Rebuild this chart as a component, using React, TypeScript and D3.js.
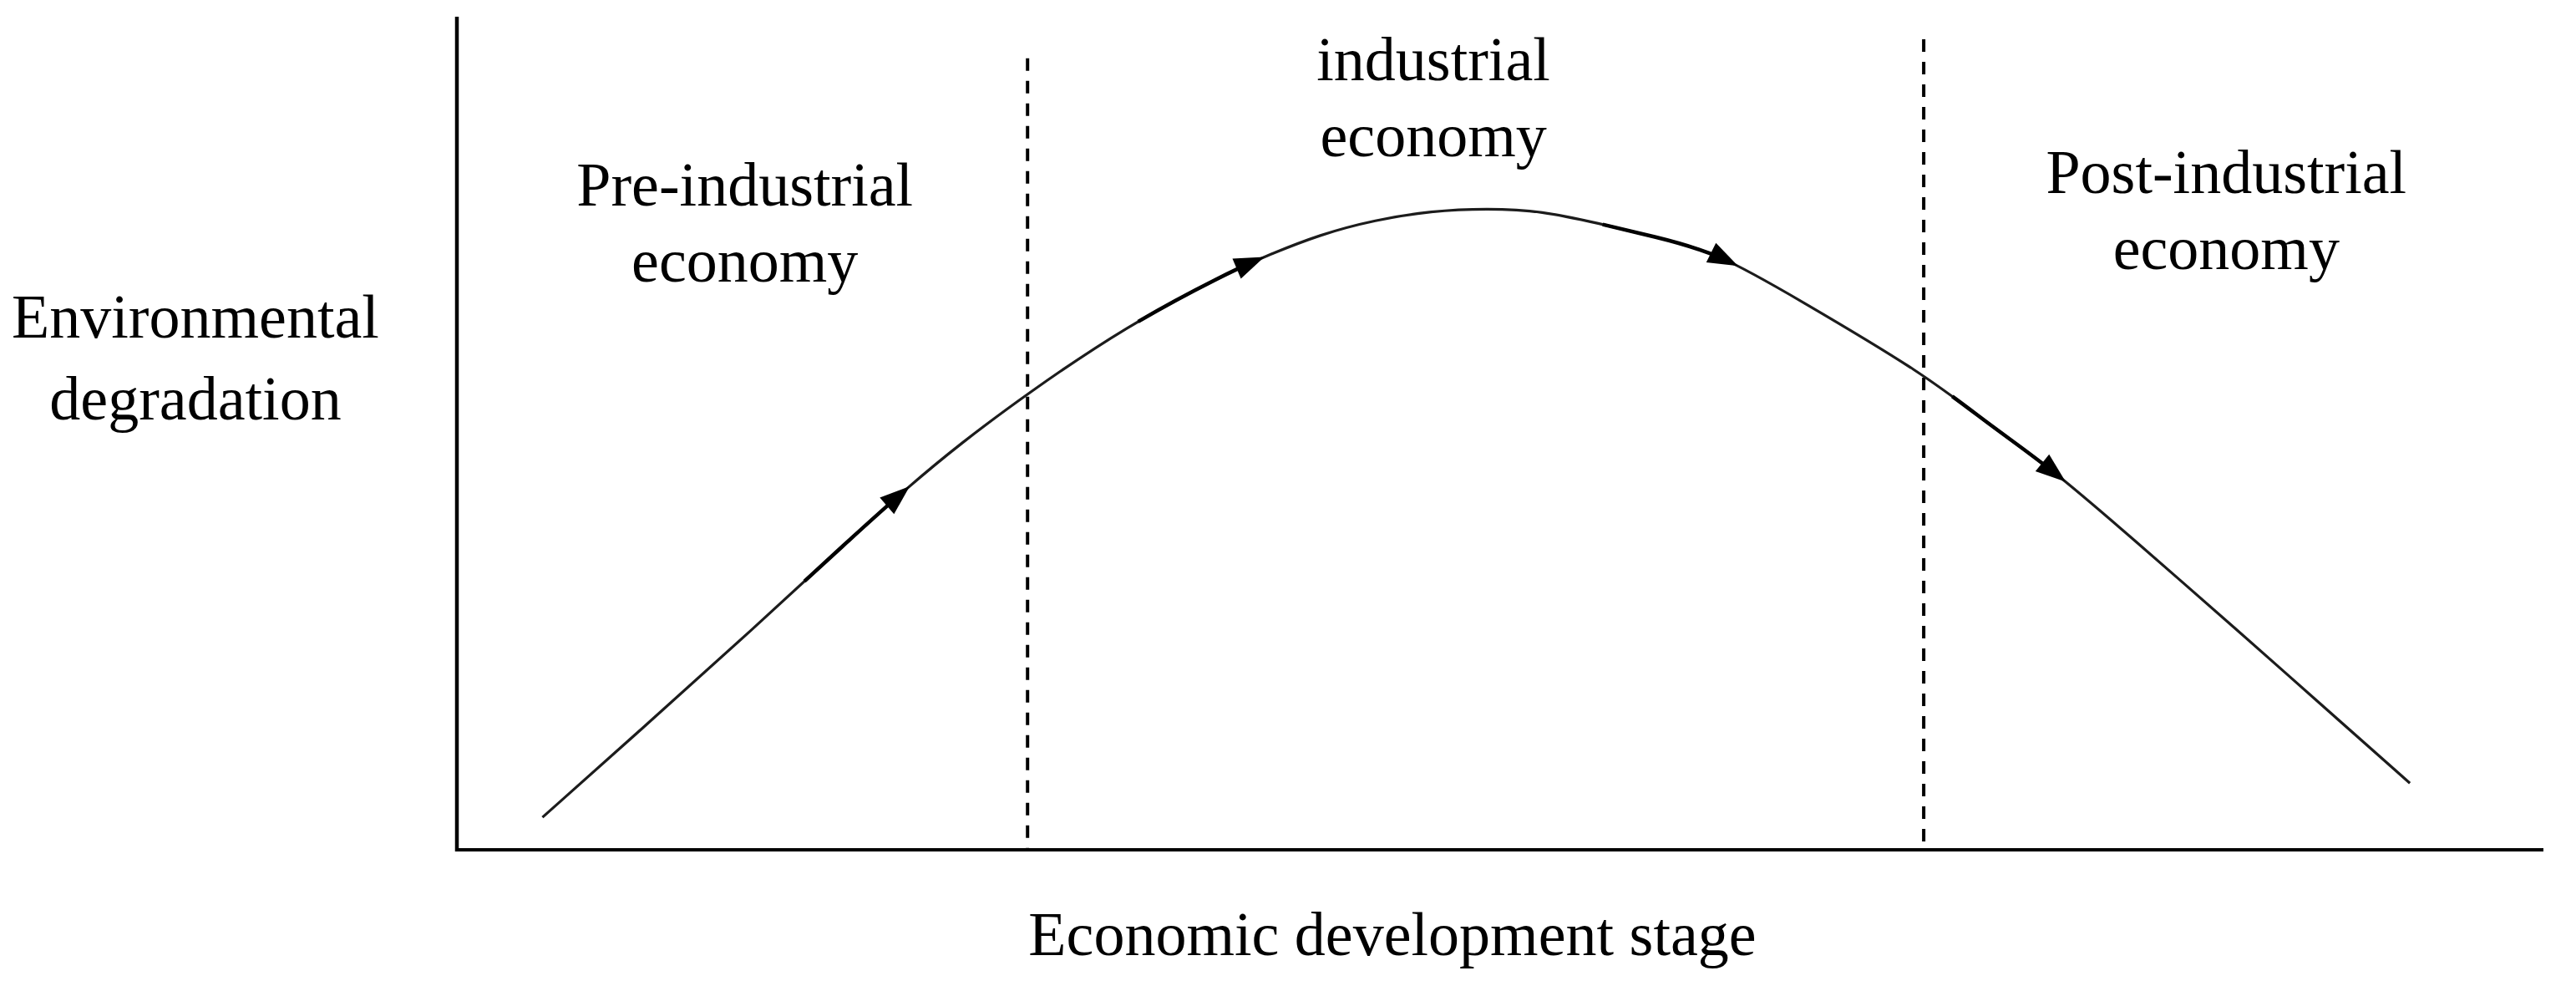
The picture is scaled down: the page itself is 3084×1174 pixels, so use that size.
import React, { useRef, useEffect } from "react";
import * as d3 from "d3";

// Curve: development stage (0-100) vs environmental degradation (0-100)
const stage = [4.1, 9.3, 14.1, 18.8, 21.6, 24.1, 27.3, 32.1, 36.9, 38.7, 41.4, 44.0, 46.7, 49.4, 52.0, 54.7, 57.4, 60.4, 64.2, 70.3, 73.5, 76.4, 80.2, 85.5, 89.0, 93.6];
const degradation = [3.9, 15.5, 26.3, 37.2, 43.5, 48.7, 54.7, 62.9, 69.2, 71.2, 73.9, 75.6, 76.7, 77.0, 76.7, 75.2, 73.6, 71.7, 66.2, 57.2, 50.9, 45.8, 37.6, 26.0, 18.2, 8.0];

// Arrow heads sit on the curve at these stages
const arrowStages = [21.7, 38.7, 61.4, 77.1];

// Dashed stage boundaries and how high they reach
const dividerStages = [27.35, 70.3];
const dividerTops = [95.0, 97.3];

// Stage names
const stageNames = [
  ["Pre-industrial", "economy"],
  ["industrial", "economy"],
  ["Post-industrial", "economy"],
];
const yTitle = ["Environmental", "degradation"];
const xTitle = "Economic development stage";

const App = () => {
  const svgRef = useRef<SVGSVGElement>(null);

  useEffect(() => {
    const width = 3084;
    const height = 1174;
    const font = "'Liberation Serif', 'Times New Roman', serif";
    const fontSize = 74;

    const svg = d3.select(svgRef.current).attr("width", width).attr("height", height);
    svg.selectAll("*").remove();

    svg.append("rect").attr("width", width).attr("height", height).attr("fill", "#fff");

    // scales
    const x = d3.scaleLinear().domain([0, 100]).range([547, 3045]);
    const y = d3.scaleLinear().domain([0, 100]).range([1017, 20]);

    // axes (plain lines, no ticks)
    svg
      .append("line")
      .attr("x1", x(0))
      .attr("x2", x(0))
      .attr("y1", y(100))
      .attr("y2", y(0) + 2)
      .attr("stroke", "#000")
      .attr("stroke-width", 4.5);
    svg
      .append("line")
      .attr("x1", x(0) - 2)
      .attr("x2", x(100))
      .attr("y1", y(0))
      .attr("y2", y(0))
      .attr("stroke", "#000")
      .attr("stroke-width", 4);

    // dashed stage boundaries
    svg
      .selectAll(".divider")
      .data(dividerStages)
      .join("line")
      .attr("class", "divider")
      .attr("x1", (d) => x(d))
      .attr("x2", (d) => x(d))
      .attr("y1", (d, i) => y(dividerTops[i]))
      .attr("y2", y(0))
      .attr("stroke", "#000")
      .attr("stroke-width", 4)
      .attr("stroke-dasharray", "15,12");

    // the curve
    const pts: [number, number][] = stage.map((s, i) => [s, degradation[i]]);
    const line = d3
      .line<[number, number]>()
      .x((d) => x(d[0]))
      .y((d) => y(d[1]))
      .curve(d3.curveBasis);
    const d = line(pts) as string;

    const path = svg
      .append("path")
      .attr("d", d)
      .attr("fill", "none")
      .attr("stroke", "#1c1c1c")
      .attr("stroke-width", 3.2);

    const node = path.node() as SVGPathElement;
    const total = node.getTotalLength();

    // find length along the path where px x is reached
    const lengthAtX = (px: number) => {
      let lo = 0;
      let hi = total;
      for (let k = 0; k < 40; k++) {
        const mid = (lo + hi) / 2;
        if (node.getPointAtLength(mid).x < px) lo = mid;
        else hi = mid;
      }
      return (lo + hi) / 2;
    };

    const arrowLen = 36;
    const arrowHalf = 13;
    const shaft = 170;

    arrowStages.forEach((s) => {
      const L = lengthAtX(x(s));
      // thicker shaft before the head: same path, only one dash shown
      svg
        .append("path")
        .attr("d", d)
        .attr("fill", "none")
        .attr("stroke", "#000")
        .attr("stroke-width", 4.5)
        .attr("stroke-dasharray", `0,${L - shaft},${shaft - 10},${total + 10}`);

      const tip = node.getPointAtLength(L);
      const back = node.getPointAtLength(L - 4);
      const ang = Math.atan2(tip.y - back.y, tip.x - back.x);
      const bx = tip.x - arrowLen * Math.cos(ang);
      const by = tip.y - arrowLen * Math.sin(ang);
      const nx = -Math.sin(ang);
      const ny = Math.cos(ang);
      svg
        .append("polygon")
        .attr(
          "points",
          [
            [tip.x, tip.y],
            [bx + nx * arrowHalf, by + ny * arrowHalf],
            [bx - nx * arrowHalf, by - ny * arrowHalf],
          ]
            .map((p) => p.join(","))
            .join(" ")
        )
        .attr("fill", "#000");
    });

    // stage names
    const nameX = [13.8, 46.8, 84.8];
    const nameY = [77.3, 92.4, 78.8];
    const lineGap = 91;
    stageNames.forEach((lines, i) => {
      svg
        .append("text")
        .attr("x", x(nameX[i]))
        .attr("y", y(nameY[i]))
        .attr("text-anchor", "middle")
        .attr("font-family", font)
        .attr("font-size", fontSize)
        .attr("fill", "#000")
        .selectAll("tspan")
        .data(lines)
        .join("tspan")
        .attr("x", x(nameX[i]))
        .attr("dy", (t, k) => (k === 0 ? 0 : lineGap))
        .text((t) => t);
    });

    // y title
    svg
      .append("text")
      .attr("x", 234)
      .attr("y", 404)
      .attr("text-anchor", "middle")
      .attr("font-family", font)
      .attr("font-size", fontSize)
      .attr("fill", "#000")
      .selectAll("tspan")
      .data(yTitle)
      .join("tspan")
      .attr("x", 234)
      .attr("dy", (t, k) => (k === 0 ? 0 : 98))
      .text((t) => t);

    // x title
    svg
      .append("text")
      .attr("x", 1667)
      .attr("y", 1143)
      .attr("text-anchor", "middle")
      .attr("font-family", font)
      .attr("font-size", fontSize)
      .attr("fill", "#000")
      .text(xTitle);
  }, []);

  return (
    <div style={{ position: "absolute", left: 0, top: 0 }}>
      <svg ref={svgRef} style={{ display: "block" }}></svg>
    </div>
  );
};

export default App;
